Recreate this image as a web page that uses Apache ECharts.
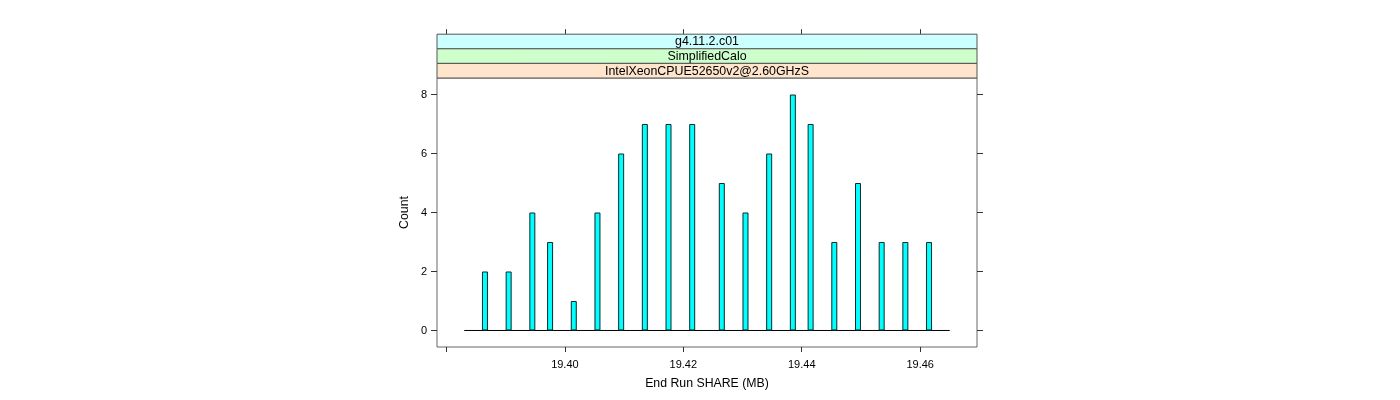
<!DOCTYPE html>
<html>
<head>
<meta charset="utf-8">
<script src="https://cdn.jsdelivr.net/npm/echarts@6/dist/echarts.min.js"></script>
<style>
html,body{margin:0;padding:0;background:#fff;}
#chart{width:1400px;height:400px;}
</style>
</head>
<body>
<div id="chart"></div>
<script>
// ---- data ----
const binCenters = [19.3865, 19.3905, 19.3945, 19.3975, 19.4015, 19.4055, 19.4095, 19.4135, 19.4175, 19.4215,
                    19.4265, 19.4305, 19.4345, 19.4385, 19.4415, 19.4455, 19.4495, 19.4535, 19.4575, 19.4615];
const counts = [2, 2, 4, 3, 1, 4, 6, 7, 7, 7, 5, 4, 6, 8, 7, 3, 5, 3, 3, 3];
const breaksRange = [19.383, 19.465];
const xTicks = [19.38, 19.40, 19.42, 19.44, 19.46];
const xLabels = [19.40, 19.42, 19.44, 19.46];
const yTicks = [0, 2, 4, 6, 8];
const stripTexts = ['g4.11.2.c01', 'SimplifiedCalo', 'IntelXeonCPUE52650v2@2.60GHzS'];
const stripColors = ['#CCFFFF', '#CCFFCC', '#FFE5CC'];
const xName = 'End Run SHARE (MB)';
const yName = 'Count';

// ---- layout ----
const G = {left: 437, top: 78, width: 540, height: 269};
const stripH = 14.6;
const font = 'Liberation Sans, Arial, Helvetica, sans-serif';

const chart = echarts.init(document.getElementById('chart'), null, {renderer: 'canvas'});

const barData = binCenters.map((x, i) => [x, counts[i]]);
const baseData = breaksRange.map(x => [x, 0]);

const stripEls = [];
for (let i = 0; i < stripTexts.length; i++) {
  const y = G.top - (stripTexts.length - i) * stripH;
  stripEls.push({
    type: 'rect',
    shape: {x: G.left, y: y, width: G.width, height: stripH},
    style: {fill: stripColors[i], stroke: '#555', lineWidth: 1},
    z: 10
  });
  stripEls.push({
    type: 'text',
    x: G.left + G.width / 2, y: y + stripH / 2 + 0.5,
    style: {text: stripTexts[i], fill: '#000', font: '12.4px ' + font, align: 'center', verticalAlign: 'middle'},
    z: 11
  });
}

const xMin = 19.3784, xMax = 19.4696;
const yMin = -0.56, yMax = 8.56;

chart.setOption({
  animation: false,
  backgroundColor: '#fff',
  grid: {left: G.left, top: G.top, width: G.width, height: G.height, show: true, borderColor: '#666', borderWidth: 1, backgroundColor: 'transparent'},
  xAxis: [
    {
      type: 'value', min: xMin, max: xMax, position: 'bottom',
      splitLine: {show: false},
      axisLine: {show: false, onZero: false},
      axisTick: {show: true, length: 5, inside: false, customValues: xTicks, lineStyle: {color: '#333'}},
      axisLabel: {show: true, customValues: xLabels, margin: 12, color: '#000', fontSize: 11, fontFamily: font,
                  formatter: v => Number(v).toFixed(2)},
      name: xName, nameLocation: 'middle', nameGap: 31,
      nameTextStyle: {color: '#000', fontSize: 12.3, fontFamily: font}
    },
    {
      type: 'value', min: xMin, max: xMax, position: 'top', offset: stripH * 3,
      splitLine: {show: false},
      axisLine: {show: false, onZero: false},
      axisTick: {show: true, length: 5, inside: false, customValues: xTicks, lineStyle: {color: '#333'}},
      axisLabel: {show: false}
    }
  ],
  yAxis: [
    {
      type: 'value', min: yMin, max: yMax, position: 'left',
      splitLine: {show: false},
      axisLine: {show: false, onZero: false},
      axisTick: {show: true, length: 6, inside: false, customValues: yTicks, lineStyle: {color: '#333'}},
      axisLabel: {show: true, customValues: yTicks, margin: 10, color: '#000', fontSize: 11, fontFamily: font},
      name: yName, nameLocation: 'middle', nameGap: 26, nameRotate: 90,
      nameTextStyle: {color: '#000', fontSize: 12.3, fontFamily: font}
    },
    {
      type: 'value', min: yMin, max: yMax, position: 'right',
      splitLine: {show: false},
      axisLine: {show: false, onZero: false},
      axisTick: {show: true, length: 6, inside: false, customValues: yTicks, lineStyle: {color: '#333'}},
      axisLabel: {show: false}
    }
  ],
  series: [
    {
      type: 'line', xAxisIndex: 0, yAxisIndex: 0, data: baseData,
      symbol: 'none', lineStyle: {color: '#000', width: 1}, z: 1, silent: true
    },
    {
      type: 'bar', xAxisIndex: 0, yAxisIndex: 0, data: barData, barWidth: 6,
      itemStyle: {color: '#00FFFF', borderColor: '#0a2a2a', borderWidth: 1},
      z: 2, silent: true
    }
  ],
  graphic: {elements: stripEls}
});
</script>
</body>
</html>
